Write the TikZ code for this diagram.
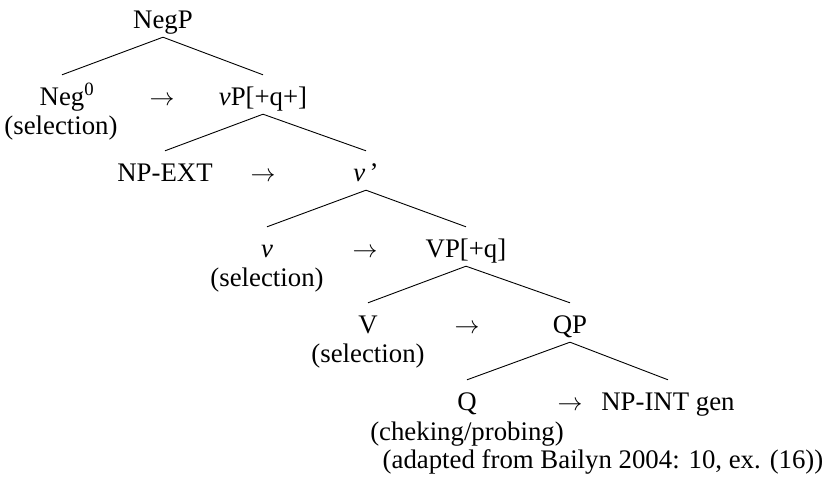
\documentclass[tikz,border=0pt]{standalone}
\usepackage{fontspec}
\setmainfont{Liberation Serif}
\begin{document}
\begin{tikzpicture}[x=1pt,y=-1pt,
  every node/.style={font=\fontsize{26.8}{30}\selectfont, inner sep=0pt, anchor=base},
  lab/.style={text height=30pt, text depth=9pt},
  edge/.style={line width=0.9pt}]
\useasboundingbox (0,0) rectangle (827,485);
% level 0
\node[lab] (negp) at (163,28) {NegP};
% level 1
\node[lab] (neg) at (62,105) {Neg\rlap{\textsuperscript{0}}};
\node (sel1) at (61,134) {(selection)};
\node (ar1) at (162,105) {$\rightarrow$};
\node[lab] (vp) at (263,105) {\textit{v}P[+q+]};
% level 2
\node[lab] (npext) at (165,181) {NP-EXT};
\node (ar2) at (263,181) {$\rightarrow$};
\node[lab] (vbar) at (366,181) {\textit{v}\,’};
% level 3
\node[lab] (v) at (267,257) {\textit{v}};
\node (sel2) at (267,286) {(selection)};
\node (ar3) at (365,257) {$\rightarrow$};
\node[lab] (VP) at (466,257) {VP[+q]};
% level 4
\node[lab] (V) at (368,333) {V};
\node (sel3) at (368,362) {(selection)};
\node (ar4) at (467,333) {$\rightarrow$};
\node[lab] (qp) at (570,333) {QP};
% level 5
\node[lab] (q) at (467,410) {Q};
\node (chk) at (467,440) {(cheking/probing)};
\node (ar5) at (570,410) {$\rightarrow$};
\node[lab] (npint) at (668,410) {NP-INT gen};
% source
\node (src) at (603,468) {(adapted from Bailyn 2004: 10, ex. (16))};
% edges
\draw[edge] (negp.south) -- (neg.north);
\draw[edge] (negp.south) -- (vp.north);
\draw[edge] (vp.south) -- (npext.north);
\draw[edge] (vp.south) -- (vbar.north);
\draw[edge] (vbar.south) -- (v.north);
\draw[edge] (vbar.south) -- (VP.north);
\draw[edge] (VP.south) -- (V.north);
\draw[edge] (VP.south) -- (qp.north);
\draw[edge] (qp.south) -- (q.north);
\draw[edge] (qp.south) -- (npint.north);
\end{tikzpicture}
\end{document}
